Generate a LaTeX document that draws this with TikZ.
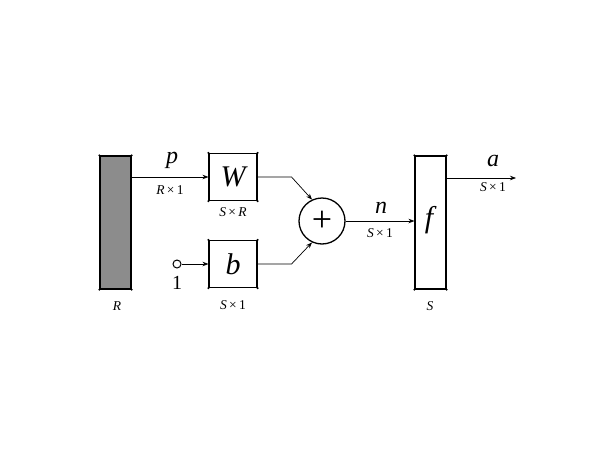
\documentclass[tikz,border=0pt]{standalone}
\usepackage{fontspec}
\setmainfont{Liberation Serif}
\usetikzlibrary{arrows.meta}

\begin{document}
\begin{tikzpicture}[x=1pt,y=-1pt,
    blk/.style={draw,line width=1.1pt,inner sep=0pt,minimum width=48pt,minimum height=47pt,font=\fontsize{30}{32}\selectfont\itshape},
    bar/.style={draw,line width=1.1pt,inner sep=0pt,minimum width=31pt,minimum height=133pt},
    dim/.style={font=\fontsize{13.5}{14}\selectfont},
    sig/.style={font=\fontsize{24}{26}\selectfont\itshape},
    conn/.style={line width=0.7pt,-{Stealth[length=6pt,width=4.5pt]}}]
  \useasboundingbox (0,0) rectangle (614,461);
  % (I) entrada
  \node[bar,fill=black!45] (inp) at (115.5,222.5) {};
  \node[dim] at (117,306) {\textit{R}};
  % (II) pesos y sesgo
  \node[blk] (wbox) at (233,177) {W};
  \node[blk] (bbox) at (233,264) {b};
  \node[dim] at (233,212) {\textit{S}\,×\,\textit{R}};
  \node[dim] at (233,305) {\textit{S}\,×\,1};
  \node[draw,line width=1pt,circle,inner sep=0pt,minimum size=8pt] (one) at (177,264) {};
  \node[font=\fontsize{20}{22}\selectfont] at (177,283) {1};
  % (III) suma
  \node[draw,line width=1.3pt,circle,inner sep=0pt,minimum size=46pt,font=\fontsize{36}{36}\selectfont] (sum) at (322,221) {+};
  % (IV) transferencia
  \node[bar] (fbox) at (430.5,222.5) {};
  \node[font=\fontsize{30}{32}\selectfont\itshape] at (429,220) {f};
  \node[dim] at (430,306) {\textit{S}};
  \coordinate (aout) at (516,178);
  % conexiones
  \draw[conn] (inp.east |- wbox) -- (wbox.west);
  \node[sig] at (172,160) {p};
  \node[dim] at (170,190) {\textit{R}\,×\,1};
  \draw[conn] (one) -- (bbox.west);
  \draw[conn] (wbox.east) -- ++(34,0) -- (sum.115);
  \draw[conn] (bbox.east) -- ++(34,0) -- (sum.245);
  \draw[conn] (sum.east) -- (fbox.west |- sum.east);
  \node[sig] at (381,208) {n};
  \node[dim] at (380,233) {\textit{S}\,×\,1};
  \draw[conn] (fbox.east |- aout) -- (aout);
  \node[sig] at (493,161) {a};
  \node[dim] at (493,187) {\textit{S}\,×\,1};
  % esquinas
  \foreach \n in {inp,wbox,bbox,fbox}
    \foreach \c in {north west,north east,south west,south east}
      \fill (\n.\c) circle (1.2pt);
\end{tikzpicture}
\end{document}
